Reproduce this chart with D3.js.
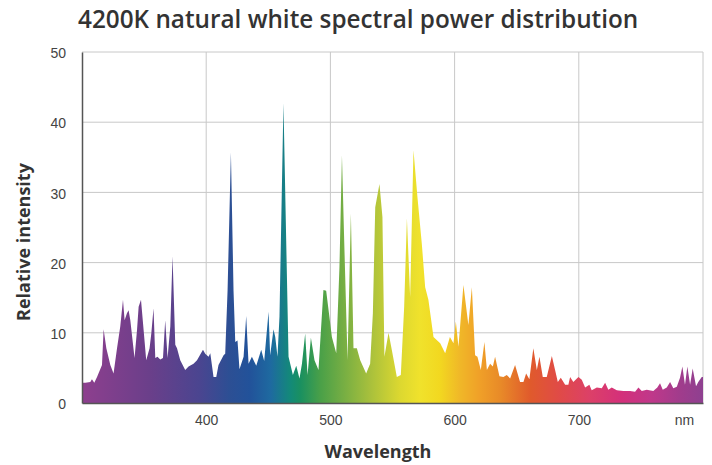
<!DOCTYPE html>
<html lang="en">
<head>
  <meta charset="UTF-8">
  <title>4200K natural white spectral power distribution</title>
  <script src="https://d3js.org/d3.v7.min.js"></script>
  <style>
    body { margin: 0; padding: 0; background: #fff; }
    svg { display: block; font-family: "Open Sans", sans-serif; }
    .tick text { fill: #444; font-size: 14px; }
  </style>
</head>
<body>
  <div id="chart"></div>
  <script>
    // Spectrum: wavelength (nm) and relative intensity
    const wavelengths = [
      300, 302.7, 306.7, 308, 309.9, 312.1, 316.1, 317.4, 319.6, 322.8, 325.4, 328.2, 330.8, 333, 334.3,
      336.2, 337.5, 338.9, 342.3, 344.3, 345.6, 347.5, 349.6, 351.7, 354.4, 355.8, 357.6, 359, 360.8, 363,
      365.2, 367, 368.9, 371.1, 372.9, 375.1, 376.5, 379.1, 383.1, 385.8, 389.8, 392.6, 397.4, 399.2, 401.9,
      403.3, 405.9, 408.1, 409.9, 414, 415.3, 417.2, 419.9, 422, 423.4, 425.2, 426.8, 430.1, 432.2, 434.1,
      436.8, 440.3, 444.3, 446.7, 450.2, 451.5, 454.2, 455.6, 457.4, 459, 462.2, 464.4, 466.3, 469.8, 472.5,
      475.1, 477.1, 479.7, 481.6, 484.3, 487.2, 490.4, 494.4, 496.6, 501.2, 504.7, 507.3, 509.3, 511.1, 513.8,
      516.5, 518.6, 521.3, 524, 528.8, 532, 534.2, 536.1, 539.5, 541.9, 543.5, 546.8, 549.5, 553.5, 556.7,
      559.4, 561.6, 564.2, 566.9, 570.1, 573.6, 576.3, 578.9, 583, 588.4, 592.4, 596.2, 599.1, 601, 603.1,
      607.1, 611.1, 613.9, 616.5, 618.4, 621.1, 624, 626, 628.6, 630.8, 632.6, 636.1, 639.3, 642, 644.7,
      648.7, 652.7, 655.4, 657.6, 660.2, 663.4, 666.2, 668.3, 671, 674.2, 678.3, 680.9, 683.1, 685.5, 689,
      691.6, 693, 695.6, 699.7, 702.4, 705.1, 708.5, 710.4, 714.5, 718.5, 721.2, 723.8, 726.5, 730.6, 735.9,
      741.3, 745.3, 748, 750.7, 754.7, 760, 763.2, 765.4, 767.6, 770.8, 773.5, 776.1, 778.9, 781.5, 783.4,
      785.5, 787.4, 789.6, 791.7, 794.4, 796.2, 799, 800
    ];
    const intensity = [
      2.9, 2.9, 3.0, 3.4, 2.9, 3.7, 5.4, 10.5, 7.8, 5.4, 4.2, 7.8, 10.9, 14.7, 11.8,
      12.8, 13.2, 11.8, 6.4, 10.4, 13.7, 14.7, 10.4, 6.1, 7.8, 9.9, 13.5, 6.4, 6.6, 6.2,
      6.4, 11.8, 6.4, 10.9, 20.9, 8.3, 7.8, 6.1, 4.7, 5.2, 5.6, 6.1, 7.6, 7.0, 6.6,
      7.1, 3.7, 3.7, 5.4, 6.8, 7.0, 16, 35.7, 16, 8.7, 8.9, 4.8, 6.6, 12.4, 5.6,
      6.6, 5.3, 7.6, 6.0, 13.0, 6.8, 10.5, 9.4, 6.6, 12.3, 42.7, 23.2, 6.6, 4.0, 5.3,
      3.5, 5.6, 9.9, 4.0, 9.3, 6.1, 4.7, 16.1, 16, 9.4, 7.1, 19.4, 35.3, 23.2, 6.1,
      27.0, 7.8, 7.8, 6.1, 4.2, 5.6, 12.8, 27.9, 31.2, 26.5, 6.6, 10.0, 7.5, 3.7, 4.0,
      13.7, 26.3, 15.1, 36.0, 29.3, 22.7, 16.5, 14.7, 9.4, 8.5, 7.1, 9.4, 8.5, 11.6, 8.0,
      16.8, 11.1, 16.5, 6.8, 6.6, 4.7, 8.7, 4.7, 5.6, 5.2, 6.6, 3.8, 3.7, 4.0, 3.5,
      5.4, 3.0, 3.0, 4.2, 3.4, 7.8, 4.7, 6.6, 3.7, 3.7, 6.7, 4.7, 3.0, 3.6, 2.6,
      2.6, 3.7, 3.0, 3.7, 3.3, 2.2, 2.6, 1.8, 2.2, 2.1, 2.9, 1.9, 2.2, 1.8, 1.7,
      1.7, 1.6, 2.2, 1.7, 1.9, 1.7, 2.2, 2.8, 1.9, 2.2, 3.0, 2.1, 2.3, 3.6, 5.2,
      2.6, 5.2, 2.6, 4.9, 2.4, 3.0, 3.7, 3.7
    ];

    // Fill colour at given wavelengths
    const colorStops = [300, 355, 395, 419, 435, 452, 468, 476, 492, 508, 532, 556, 572, 588, 604, 620, 637, 661, 685, 709, 734, 758, 782, 800];
    const colorValues = ["#8e3f8e", "#6a3f8a", "#4a4590", "#2c4f94", "#22529a", "#1e6aa0", "#138a78", "#1a9060",
      "#4aa048", "#70ac44", "#a8c03c", "#dcd830", "#f0e22c", "#f2d820", "#f0b828", "#f0a028", "#e88a28",
      "#e05a2c", "#e04a48", "#dc4068", "#d4307a", "#c0388a", "#a03c8c", "#8e4090"];

    const xTicks = [300, 400, 500, 600, 700, 800];
    const xTickLabels = ["", "400", "500", "600", "700", "nm"];
    const yTicks = [0, 10, 20, 30, 40, 50];

    const width = 712, height = 465;
    const margin = { top: 52, right: 9, bottom: 62, left: 82 };

    const svg = d3.select("#chart").append("svg")
      .attr("width", width)
      .attr("height", height);

    const x = d3.scaleLinear().domain([300, 800]).range([margin.left, width - margin.right]);
    const y = d3.scaleLinear().domain([0, 50]).range([height - margin.bottom, margin.top]);

    // title
    svg.append("text")
      .attr("x", 78)
      .attr("y", 28)
      .attr("font-size", 24.3)
      .attr("font-weight", 600)
      .attr("fill", "#333")
      .text("4200K natural white spectral power distribution");

    // grid
    svg.append("g")
      .selectAll("line.h")
      .data(yTicks.slice(1))
      .join("line")
      .attr("x1", x(300)).attr("x2", x(800))
      .attr("y1", d => y(d)).attr("y2", d => y(d))
      .attr("stroke", "#c8c8c8");

    svg.append("g")
      .selectAll("line.v")
      .data(xTicks.slice(1))
      .join("line")
      .attr("x1", d => x(d)).attr("x2", d => x(d))
      .attr("y1", y(0)).attr("y2", y(50))
      .attr("stroke", "#c8c8c8");

    // gradient
    const grad = svg.append("defs").append("linearGradient")
      .attr("id", "spectrum")
      .attr("gradientUnits", "userSpaceOnUse")
      .attr("x1", x(300)).attr("x2", x(800))
      .attr("y1", 0).attr("y2", 0);
    grad.selectAll("stop")
      .data(colorStops)
      .join("stop")
      .attr("offset", d => (d - 300) / 500)
      .attr("stop-color", (d, i) => colorValues[i]);

    const data = wavelengths.map((w, i) => [w, intensity[i]]);

    const area = d3.area()
      .x(d => x(d[0]))
      .y0(y(0))
      .y1(d => y(d[1]));

    svg.append("path")
      .datum(data)
      .attr("d", area)
      .attr("fill", "url(#spectrum)");

    // axes
    const xAxis = svg.append("g")
      .attr("transform", `translate(0,${y(0)})`)
      .call(d3.axisBottom(x).tickValues(xTicks).tickSize(0).tickPadding(12)
        .tickFormat((d, i) => xTickLabels[i]));
    xAxis.select(".domain").attr("stroke", "#555").attr("stroke-width", 1.5);
    xAxis.selectAll(".tick text").filter(d => d === 800).attr("dx", -19);

    const yAxis = svg.append("g")
      .attr("transform", `translate(${x(300)},0)`)
      .call(d3.axisLeft(y).tickValues(yTicks).tickSize(0).tickPadding(16));
    yAxis.select(".domain").attr("stroke", "#555").attr("stroke-width", 1.5);
    yAxis.selectAll(".tick text").attr("dy", "0.4em");

    // axis titles
    svg.append("text")
      .attr("x", 378)
      .attr("y", 458)
      .attr("text-anchor", "middle")
      .attr("font-size", 18)
      .attr("font-weight", 700)
      .attr("fill", "#333")
      .text("Wavelength");

    svg.append("text")
      .attr("transform", "translate(30,242) rotate(-90)")
      .attr("text-anchor", "middle")
      .attr("font-size", 18)
      .attr("font-weight", 700)
      .attr("fill", "#333")
      .text("Relative intensity");
  </script>
</body>
</html>
